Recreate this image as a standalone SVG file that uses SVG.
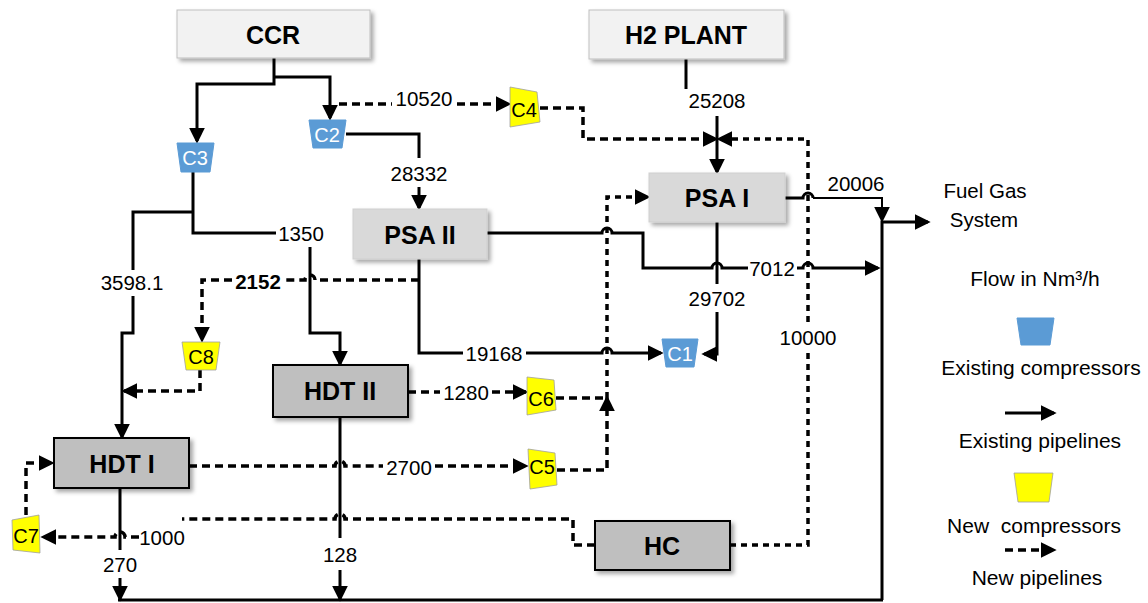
<svg xmlns="http://www.w3.org/2000/svg" width="1148" height="603" viewBox="0 0 1148 603">
<style>
text{font-family:"Liberation Sans",Arial,sans-serif;fill:#000;text-anchor:middle;dominant-baseline:central}
.nl{font-size:25px;font-weight:bold}
.num{font-size:20.5px}
.lg{font-size:21px}
.cw{font-size:20px;fill:#fff}
.cb{font-size:20px;fill:#000}
.s{fill:none;stroke:#000;stroke-width:3}
.st{fill:none;stroke:#000;stroke-width:2}
.d{fill:none;stroke:#000;stroke-width:3.5;stroke-dasharray:8 5}
.d2{fill:none;stroke:#000;stroke-width:3.5;stroke-dasharray:6 5}
.light{fill:#f2f2f2;stroke:#bfbfbf;stroke-width:1;filter:url(#sh)}
.mid{fill:#d9d9d9;stroke:#cfcfcf;stroke-width:1;filter:url(#sh)}
.dark{fill:#bfbfbf;stroke:#000;stroke-width:2;filter:url(#sh)}
.blue{fill:#5b9bd5;stroke:#5b9bd5;stroke-width:1}
.yel{fill:#ffff00;stroke:#a0a0a0;stroke-width:0.8}
</style>
<defs>
<filter id="sh" x="-10%" y="-10%" width="130%" height="150%">
<feDropShadow dx="3" dy="3" stdDeviation="2" flood-color="#000" flood-opacity="0.35"/>
</filter>
<marker id="ah" viewBox="0 0 12 12" refX="10" refY="6" markerWidth="16" markerHeight="16" markerUnits="userSpaceOnUse" orient="auto">
<path d="M0,0 L12,6 L0,12 z" fill="#000"/>
</marker>
</defs>
<rect width="1148" height="603" fill="#fff"/>

<g id="connectors">
<path class="s" d="M274,58 V84 H197 V141" marker-end="url(#ah)"/>
<path class="s" d="M274,77 H330 V118" marker-end="url(#ah)"/>
<path class="s" d="M346,134 H419 V158"/>
<text class="num" x="419" y="173">28332</text>
<path class="s" d="M419,187 V208" marker-end="url(#ah)"/>
<path class="d" d="M339,104 H392"/>
<text class="num" x="424" y="98">10520</text>
<path class="d" d="M457,104 H509" marker-end="url(#ah)"/>
<path class="d" d="M540,108 H583 V139 H716" marker-end="url(#ah)"/>
<path class="s" d="M686,59 V89"/>
<text class="num" x="717" y="100">25208</text>
<path class="s" d="M717,116 V172" marker-end="url(#ah)"/>
<path class="d2" d="M730,545 H808 V353"/>
<text class="num" x="808" y="337">10000</text>
<path class="d2" d="M808,322 V139 H719" marker-end="url(#ah)"/>
<path class="s" d="M785,198 H803 A5,5 0 0 1 813,198"/>
<path class="st" d="M813,198 H882 V220" marker-end="url(#ah)"/>
<text class="num" x="856" y="183">20006</text>
<path class="s" d="M882,600 V222 H928" marker-end="url(#ah)"/>
<path class="s" d="M118,600 H883"/>
<path class="s" d="M487,233 H602 A5,5 0 0 1 612,233 H643 V268 H712 A5,5 0 0 1 722,268 H748"/>
<text class="num" x="772" y="268">7012</text>
<path class="s" d="M797,268 H803 A5,5 0 0 1 813,268 H878" marker-end="url(#ah)"/>
<path class="s" d="M717,222 V284"/>
<text class="num" x="717" y="298">29702</text>
<path class="s" d="M717,312 V354 H704" marker-end="url(#ah)"/>
<path class="s" d="M419,259 V353 H463"/>
<text class="num" x="494" y="353">19168</text>
<path class="s" d="M526,353 H602 A5,5 0 0 1 612,353 H661" marker-end="url(#ah)"/>
<path class="d" d="M419,280 H315 A5,5 0 0 0 305,280 H285"/>
<text class="num" x="258" y="281" font-weight="bold">2152</text>
<path class="d" d="M232,280 H202 V340" marker-end="url(#ah)"/>
<path class="s" d="M193,172 V233 H276"/>
<text class="num" x="301" y="233">1350</text>
<path class="s" d="M193,212 H133 V270"/>
<text class="num" x="132" y="282">3598.1</text>
<path class="s" d="M133,296 V333 H122 V437" marker-end="url(#ah)"/>
<path class="s" d="M310,247 V333 H340 V364" marker-end="url(#ah)"/>
<path class="d" d="M200,370 V391 H124" marker-end="url(#ah)"/>
<path class="d" d="M408,392 H440"/>
<text class="num" x="466" y="392">1280</text>
<path class="d" d="M492,392 H526" marker-end="url(#ah)"/>
<path class="d" d="M556,398 H607"/>
<path class="d" d="M557,470 H607 V398" marker-end="url(#ah)"/>
<path class="d2" d="M607,398 V197 H648" marker-end="url(#ah)"/>
<path class="d" d="M189,466 H335 A5,5 0 0 1 345,466 H383"/>
<text class="num" x="409" y="467">2700</text>
<path class="d" d="M435,466 H526" marker-end="url(#ah)"/>
<path class="d" d="M595,545 H573 V519 H345 A5,5 0 0 0 335,519 H182"/>
<text class="num" x="162" y="537">1000</text>
<path class="d" d="M139,537 H125 A5,5 0 0 0 115,537 H43" marker-end="url(#ah)"/>
<path class="d" d="M26,515 V463 H52" marker-end="url(#ah)"/>
<path class="s" d="M120,488 V550"/>
<text class="num" x="120" y="564">270</text>
<path class="s" d="M120,578 V599" marker-end="url(#ah)"/>
<path class="s" d="M340,417 V538"/>
<text class="num" x="340" y="554">128</text>
<path class="s" d="M340,570 V599" marker-end="url(#ah)"/>
</g>

<g id="CCR"><rect class="light" x="177" y="10" width="193" height="48"/><text class="nl" x="273" y="35">CCR</text></g>
<g id="H2PLANT"><rect class="light" x="589" y="10" width="195" height="49"/><text class="nl" x="686" y="35">H2 PLANT</text></g>
<g id="PSAI"><rect class="mid" x="649" y="173" width="136" height="49"/><text class="nl" x="717" y="198">PSA I</text></g>
<g id="PSAII"><rect class="mid" x="353" y="209" width="134" height="50"/><text class="nl" x="420" y="235">PSA II</text></g>
<g id="HDTI"><rect class="dark" x="54" y="438" width="135" height="50"/><text class="nl" x="122" y="464">HDT I</text></g>
<g id="HDTII"><rect class="dark" x="273" y="365" width="135" height="52"/><text class="nl" x="340" y="391">HDT II</text></g>
<g id="HC"><rect class="dark" x="595" y="521" width="135" height="49"/><text class="nl" x="662" y="546">HC</text></g>

<g id="C1"><polygon class="blue" points="662,339 698,339 694,367 666,367"/><text class="cw" x="680" y="354">C1</text></g>
<g id="C2"><polygon class="blue" points="309,120 346,120 342,148 313,148"/><text class="cw" x="327" y="135">C2</text></g>
<g id="C3"><polygon class="blue" points="177,143 214,143 210,172 181,172"/><text class="cw" x="195" y="158">C3</text></g>
<g id="C4"><polygon class="yel" points="510,87 537,92 540,122 510,127"/><text class="cb" x="524" y="110">C4</text></g>
<g id="C5"><polygon class="yel" points="528,449 555,453 557,485 530,489"/><text class="cb" x="542" y="467">C5</text></g>
<g id="C6"><polygon class="yel" points="527,377 554,380 556,410 527,415"/><text class="cb" x="541" y="399">C6</text></g>
<g id="C7"><polygon class="yel" points="12,520 39,515 40,553 13,550"/><text class="cb" x="26" y="536">C7</text></g>
<g id="C8"><polygon class="yel" points="182,342 220,342 216,370 186,370"/><text class="cb" x="201" y="357">C8</text></g>

<g id="FuelGas"><text class="num" x="985" y="190">Fuel Gas</text><text class="num" x="984" y="219">System</text></g>

<g id="legend">
<text class="lg" x="1035" y="278">Flow in Nm³/h</text>
<polygon class="blue" points="1017,318 1054,318 1050,345 1021,345"/>
<text class="lg" x="1041" y="367">Existing compressors</text>
<path class="s" d="M1005,413 H1054" marker-end="url(#ah)"/>
<text class="lg" x="1040" y="440">Existing pipelines</text>
<polygon class="yel" points="1014,473 1053,473 1049,502 1018,502"/>
<text class="lg" x="1034" y="525" xml:space="preserve">New  compressors</text>
<path class="d" d="M1005,550 H1054" stroke-dasharray="4 4" marker-end="url(#ah)"/>
<text class="lg" x="1037" y="577">New pipelines</text>
</g>
</svg>
